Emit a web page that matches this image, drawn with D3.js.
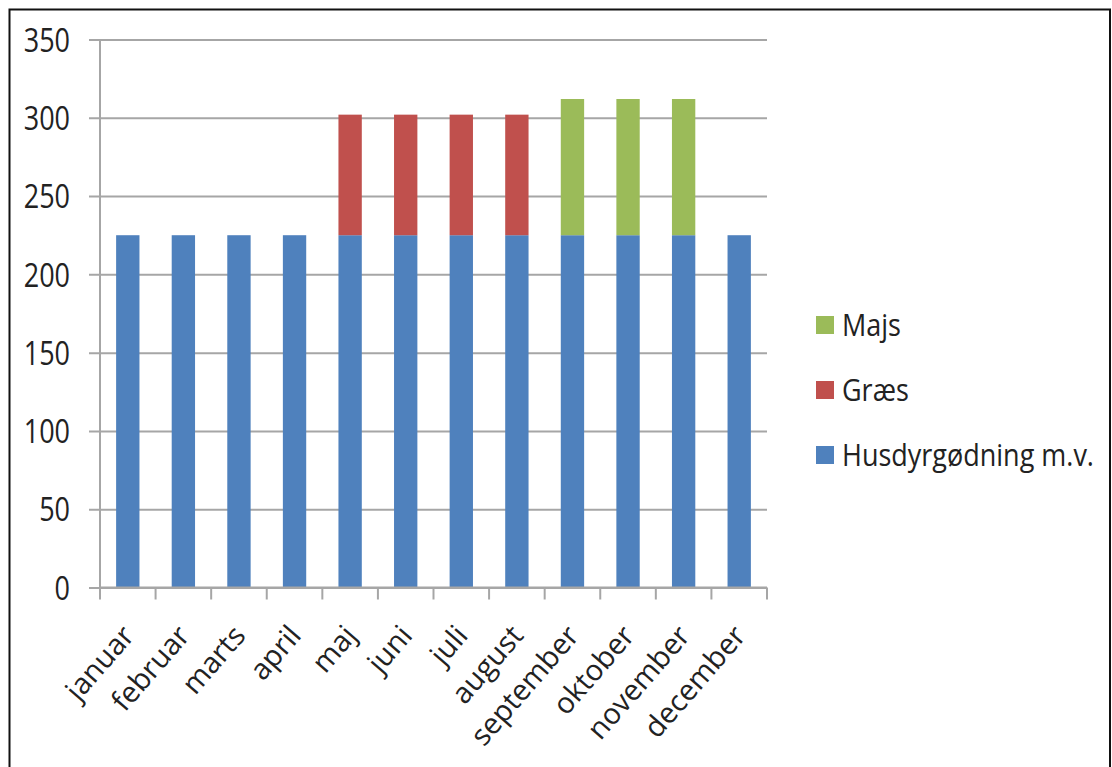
<!DOCTYPE html>
<html>
<head>
<meta charset="utf-8">
<script src="https://cdn.jsdelivr.net/npm/d3@7"></script>
<style>
  html, body { margin: 0; padding: 0; background: #fff; }
  svg { display: block; }
  text { font-family: "Open Sans", "Noto Sans", sans-serif; fill: #222; }
</style>
</head>
<body>
<svg id="chart" width="1112" height="767"></svg>
<script>
// Months on the category axis
const months = ["januar", "februar", "marts", "april", "maj", "juni",
                "juli", "august", "september", "oktober", "november", "december"];

// Series values per month (stacked bottom to top)
const husdyr = [225, 225, 225, 225, 225, 225, 225, 225, 225, 225, 225, 225];
const graes  = [0, 0, 0, 0, 77, 77, 77, 77, 0, 0, 0, 0];
const majs   = [0, 0, 0, 0, 0, 0, 0, 0, 87, 87, 87, 0];

const seriesKeys  = ["Husdyrgødning m.v.", "Græs", "Majs"];
const seriesColor = ["#4F81BD", "#C0504D", "#9BBB59"];
const yTicks = [0, 50, 100, 150, 200, 250, 300, 350];

const rows = months.map((m, i) => ({
  month: m,
  "Husdyrgødning m.v.": husdyr[i],
  "Græs": graes[i],
  "Majs": majs[i]
}));

const svg = d3.select("#chart");
const plot = { left: 100, right: 767, top: 39.5, bottom: 587.5 };
const tall = 1.2; // numerals are drawn slightly taller than wide

// Outer frame
svg.append("rect")
  .attr("x", 9.5).attr("y", 9.5)
  .attr("width", 1100.5).attr("height", 780)
  .attr("fill", "none").attr("stroke", "#111").attr("stroke-width", 2);

const x = d3.scaleBand().domain(months).range([plot.left, plot.right]).paddingInner(0.58).paddingOuter(0.29);
const xBand = d3.scaleBand().domain(months).range([plot.left, plot.right]);
const y = d3.scaleLinear().domain([0, 350]).range([plot.bottom, plot.top]);

// Horizontal gridlines with left tick marks
const yAxis = d3.axisLeft(y).tickValues(yTicks).tickSize(-(plot.right - plot.left)).tickSizeOuter(0).tickPadding(30);
const gy = svg.append("g").attr("transform", `translate(${plot.left},0)`).call(yAxis);
gy.select(".domain").remove();
gy.selectAll(".tick line").attr("stroke", "#a6a6a6").attr("stroke-width", 2).attr("x1", -11);
gy.selectAll(".tick text")
  .attr("font-size", 27)
  .attr("fill", "#222")
  .style("font-family", "'Open Sans', sans-serif")
  .attr("dy", "0.36em")
  .attr("transform", `scale(1,${tall})`);

// Vertical axis line
svg.append("line")
  .attr("x1", plot.left).attr("x2", plot.left)
  .attr("y1", plot.top).attr("y2", plot.bottom)
  .attr("stroke", "#a6a6a6").attr("stroke-width", 2);

// Stacked bars
const stack = d3.stack().keys(seriesKeys);
const layers = stack(rows);
svg.append("g").selectAll("g")
  .data(layers)
  .join("g")
  .attr("fill", (d, i) => seriesColor[i])
  .selectAll("rect")
  .data(d => d.filter(v => v[1] > v[0]))
  .join("rect")
  .attr("x", d => x(d.data.month))
  .attr("width", x.bandwidth())
  .attr("y", d => y(d[1]))
  .attr("height", d => y(d[0]) - y(d[1]));

// Category axis with ticks between categories
const gx = svg.append("g").attr("transform", `translate(0,${plot.bottom})`);
gx.append("line")
  .attr("x1", plot.left).attr("x2", plot.right)
  .attr("stroke", "#a6a6a6").attr("stroke-width", 2);
const boundaries = months.map(m => xBand(m)).concat([plot.right]);
gx.selectAll("line.tk")
  .data(boundaries)
  .join("line")
  .attr("class", "tk")
  .attr("x1", d => d).attr("x2", d => d)
  .attr("y1", 0).attr("y2", 12)
  .attr("stroke", "#a6a6a6").attr("stroke-width", 2);

gx.selectAll("text")
  .data(months)
  .join("text")
  .attr("text-anchor", "end")
  .attr("font-size", 29)
  .attr("fill", "#222")
  .attr("transform", d => `translate(${xBand(d) + xBand.bandwidth() / 2 + 8},${49}) rotate(-49)`)
  .text(d => d);

// Legend (top series first)
const legendItems = seriesKeys.map((k, i) => ({ key: k, color: seriesColor[i] })).reverse();
const lg = svg.append("g").attr("transform", "translate(816,316)");
const li = lg.selectAll("g").data(legendItems).join("g")
  .attr("transform", (d, i) => `translate(0,${i * 65})`);
li.append("rect").attr("width", 18).attr("height", 18).attr("fill", d => d.color);
li.append("text")
  .attr("transform", `translate(26,9) scale(1,1.15)`)
  .attr("dy", "0.36em")
  .attr("font-size", 27)
  .attr("fill", "#222")
  .text(d => d.key);
</script>
</body>
</html>
